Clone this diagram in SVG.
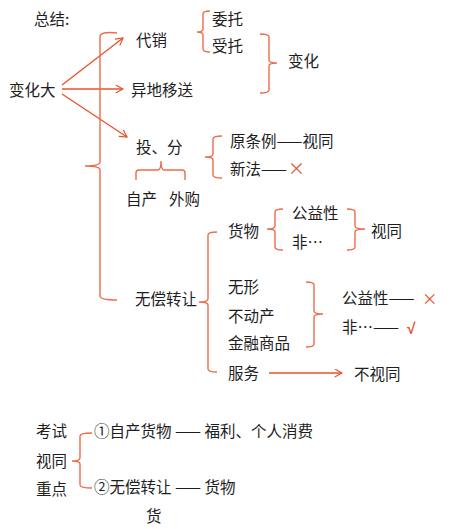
<svg xmlns="http://www.w3.org/2000/svg" width="451" height="529" viewBox="0 0 451 529">
<defs>
<style>
text{font-family:"Noto Sans CJK SC","Noto Sans",sans-serif;font-size:15.5px;fill:#1e1e1e}
.br{fill:none;stroke:#EE6B48;stroke-width:1.4}
.ar{fill:none;stroke:#E8502A;stroke-width:1.3}
.red{fill:#E8502A}
</style>
<marker id="ah" viewBox="0 0 10 10" refX="9" refY="5" markerWidth="9" markerHeight="9" markerUnits="userSpaceOnUse" orient="auto">
<path d="M1,0.5 L9,5 L1,9.5" fill="none" stroke="#E8502A" stroke-width="1.3"/>
</marker>
</defs>
<rect width="451" height="529" fill="#fff"/>

<g id="connectors">
<line class="ar" x1="62" y1="85" x2="123" y2="38" marker-end="url(#ah)"/>
<line class="ar" x1="62" y1="89" x2="123" y2="89" marker-end="url(#ah)"/>
<line class="ar" x1="62" y1="94" x2="127" y2="137" marker-end="url(#ah)"/>
<line class="ar" x1="269" y1="373" x2="342" y2="373" marker-end="url(#ah)"/>
<path class="br" d="M117,33 Q100,31 100,37 L100,162 Q100,166 85,166 Q100,166 100,170 L100,296 Q100,300 117,300"/>
<path class="br" d="M210,11 Q203,11 203,14 L203,29 Q203,32 197,32 Q203,32 203,35 L203,49 Q203,52 210,52"/>
<path class="br" d="M260,34 Q269,34 269,37 L269,60 Q269,63 277,63 Q269,63 269,66 L269,90 Q269,93 260,93"/>
<path class="br" d="M136,180 L136,173 Q136,170 139,170 L158,170 Q161,170 161,161 Q161,170 164,170 L182,170 Q185,170 185,173 L185,180"/>
<path class="br" d="M222,136 Q213,136 213,139 L213,154 Q213,157 205,157 Q213,157 213,160 L213,175 Q213,178 222,178"/>
<path class="br" d="M217,232 Q208,232 208,235 L208,299 Q208,302 199,302 Q208,302 208,305 L208,369 Q208,372 217,372"/>
<path class="br" d="M283,209 Q275,209 275,212 L275,226 Q275,229 267,229 Q275,229 275,232 L275,247 Q275,250 283,250"/>
<path class="br" d="M347,209 Q355,209 355,212 L355,226 Q355,229 365,229 Q355,229 355,232 L355,247 Q355,250 347,250"/>
<path class="br" d="M306,282 Q314,282 314,285 L314,311 Q314,314 323,314 Q314,314 314,317 L314,344 Q314,347 306,347"/>
<path class="br" d="M92,433 Q80,433 80,436 L80,458 Q80,461 72,461 Q80,461 80,464 L80,485 Q80,488 92,488"/>
</g>

<g id="title"><text x="34" y="25">总结:</text></g>
<g id="n-bianhuada"><text x="9" y="96">变化大</text></g>
<g id="n-daixiao"><text x="136" y="46">代销</text></g>
<g id="n-weituo"><text x="212" y="25">委托</text></g>
<g id="n-shoutuo"><text x="212" y="52">受托</text></g>
<g id="n-bianhua"><text x="288" y="67">变化</text></g>
<g id="n-yidi"><text x="131" y="96">异地移送</text></g>
<g id="n-toufen"><text x="136" y="153">投、分</text></g>
<g id="n-zichan"><text x="126" y="205">自产</text></g>
<g id="n-waigou"><text x="169" y="205">外购</text></g>
<g id="n-yuantiaoli"><text x="230" y="147">原条例——视同</text></g>
<g id="n-xinfa"><text x="230" y="175">新法——<tspan class="red" font-size="17" dx="1">×</tspan></text></g>
<g id="n-wuchang"><text x="135" y="305">无偿转让</text></g>
<g id="n-huowu"><text x="228" y="237">货物</text></g>
<g id="n-gongyi1"><text x="292" y="219">公益性</text></g>
<g id="n-fei1"><text x="292" y="248">非…</text></g>
<g id="n-shitong1"><text x="371" y="237">视同</text></g>
<g id="n-wuxing"><text x="228" y="293">无形</text></g>
<g id="n-budongchan"><text x="228" y="322">不动产</text></g>
<g id="n-jinrong"><text x="228" y="349">金融商品</text></g>
<g id="n-gongyi2"><text x="342" y="304">公益性——</text><text x="422" y="305" class="red" font-size="18">×</text></g>
<g id="n-fei2"><text x="342" y="333">非…——</text><text x="407" y="334" class="red" font-size="17" font-weight="bold" style="font-family:'Liberation Sans',sans-serif">√</text></g>
<g id="n-fuwu"><text x="228" y="379">服务</text></g>
<g id="n-bushitong"><text x="354" y="380">不视同</text></g>
<g id="n-kaoshi"><text x="36" y="437">考试</text><text x="36" y="467">视同</text><text x="36" y="495">重点</text></g>
<g id="n-item1"><text x="94" y="437">①自产货物 —— 福利、个人消费</text></g>
<g id="n-item2"><text x="94" y="493">②无偿转让 —— 货物</text></g>
<g id="n-huo"><text x="146" y="522">货</text></g>
</svg>
